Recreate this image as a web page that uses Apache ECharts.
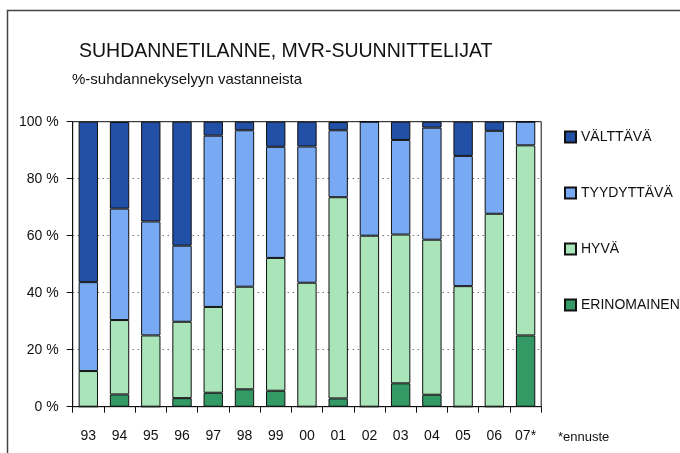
<!DOCTYPE html>
<html>
<head>
<meta charset="utf-8">
<script src="https://cdn.jsdelivr.net/npm/echarts@6/dist/echarts.min.js"></script>
<style>html,body{margin:0;padding:0;background:#fff;}#c{width:680px;height:453px;}</style>
</head>
<body>
<div id="c"></div>
<script>
const categories = ['93','94','95','96','97','98','99','00','01','02','03','04','05','06','07*'];
const erinomainen = [0, 4.3, 0, 3.0, 4.9, 6.1, 5.6, 0, 2.9, 0, 8.2, 4.2, 0, 0, 25];
const hyva = [12.5, 26.1, 25, 26.8, 30.1, 36.0, 46.6, 43.5, 70.6, 60, 52.2, 54.4, 42.3, 67.7, 66.7];
const tyydyttava = [31.2, 39.1, 40, 26.7, 60.1, 54.9, 39.0, 47.8, 23.5, 40, 33.2, 39.3, 45.7, 29.1, 8.3];
const valttava = [56.3, 30.4, 35, 43.5, 4.9, 3.0, 8.8, 8.7, 2.9, 0, 6.4, 2.1, 12.0, 3.2, 0];
const yTicks = [0, 20, 40, 60, 80, 100];

const FONT = '"Liberation Sans", Arial, sans-serif';
const chart = echarts.init(document.getElementById('c'), null, {renderer: 'canvas'});
function ser(name, data, color) {
  return {
    name: name, type: 'bar', stack: 'total', data: data,
    barCategoryGap: '38%',
    itemStyle: {color: color, borderColor: '#111', borderWidth: 1},
    emphasis: {disabled: true}
  };
}
chart.setOption({
  animation: false,
  textStyle: {fontFamily: FONT, color: '#111'},
  title: [
    {text: 'SUHDANNETILANNE, MVR-SUUNNITTELIJAT', left: 74, top: 37, padding: 5,
     textStyle: {fontFamily: FONT, fontSize: 19.5, fontWeight: 'normal', color: '#111'}},
    {text: '%-suhdannekyselyyn vastanneista', left: 67, top: 67, padding: 5,
     textStyle: {fontFamily: FONT, fontSize: 15, fontWeight: 'normal', color: '#111'}}
  ],
  legend: {
    orient: 'vertical', left: 564, top: 130, padding: 0,
    itemWidth: 11, itemHeight: 11, itemGap: 42,
    data: ['VÄLTTÄVÄ', 'TYYDYTTÄVÄ', 'HYVÄ', 'ERINOMAINEN'],
    textStyle: {fontFamily: FONT, fontSize: 14, color: '#111'},
    icon: 'rect', selectedMode: false
  },
  grid: {left: 72.7, right: 138.8, top: 121.7, bottom: 46.3, show: true, borderColor: '#111', borderWidth: 1},
  xAxis: {
    type: 'category', data: categories,
    axisLine: {lineStyle: {color: '#111', width: 1}},
    axisTick: {show: true, length: 6, lineStyle: {color: '#111'}},
    axisLabel: {fontFamily: FONT, fontSize: 14, color: '#111', margin: 22}
  },
  yAxis: {
    type: 'value', min: yTicks[0], max: yTicks[yTicks.length - 1], interval: 20,
    axisLine: {show: true, lineStyle: {color: '#111', width: 1}},
    axisTick: {show: true, length: 6, lineStyle: {color: '#111'}},
    axisLabel: {fontFamily: FONT, fontSize: 14, color: '#111', margin: 14, formatter: '{value} %'},
    splitLine: {show: true, lineStyle: {color: '#333', type: [1, 4], width: 1}}
  },
  graphic: [
    {type: 'rect', shape: {x: 7.5, y: 10.5, width: 800, height: 600}, style: {fill: 'none', stroke: '#444', lineWidth: 1.5}, silent: true, z: -1},
    {type: 'text', left: 558, top: 431, style: {text: '*ennuste', font: '13px ' + FONT, fill: '#111'}}
  ],
  series: [
    ser('ERINOMAINEN', erinomainen, '#339A66'),
    ser('HYVÄ', hyva, '#AAE5BA'),
    ser('TYYDYTTÄVÄ', tyydyttava, '#78A9F3'),
    ser('VÄLTTÄVÄ', valttava, '#2250A6')
  ]
});
</script>
</body>
</html>
